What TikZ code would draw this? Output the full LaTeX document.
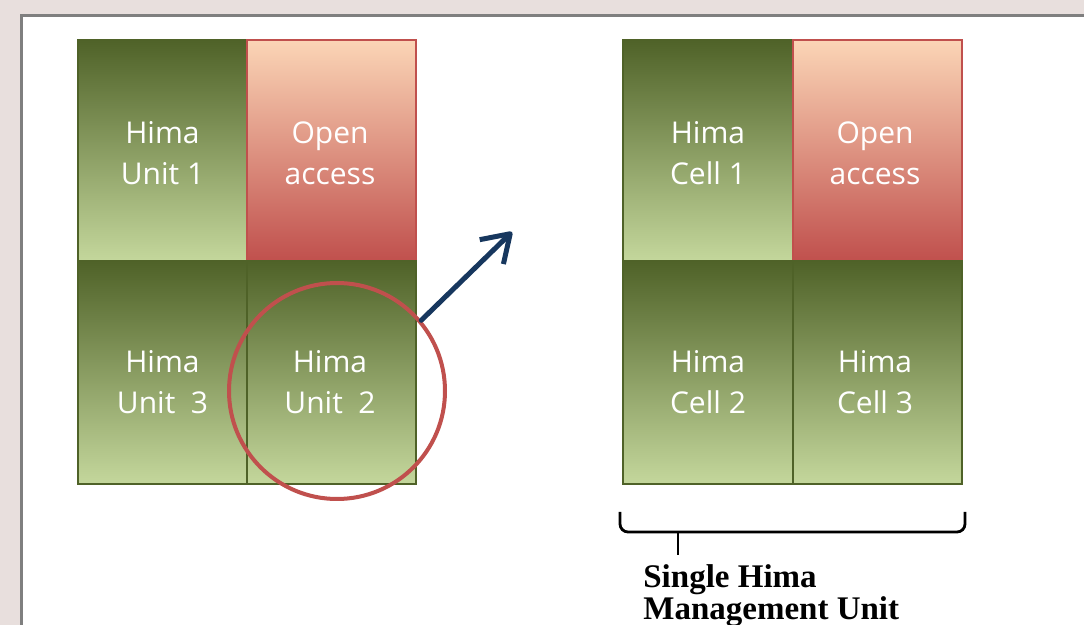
\documentclass[tikz,border=0pt]{standalone}
\usepackage{fontspec}
\setmainfont{Open Sans}
\newfontfamily\labelfont{Liberation Serif}
\usetikzlibrary{arrows.meta}

\definecolor{pagebg}{HTML}{E8DFDD}
\definecolor{framegrey}{HTML}{7F7F7F}
\definecolor{himadark}{HTML}{4F6228}
\definecolor{himamid}{HTML}{728645}
\definecolor{himalight}{HTML}{C4D79C}
\definecolor{openlight}{HTML}{FBD5B6}
\definecolor{openmid}{HTML}{E3A088}
\definecolor{openred}{HTML}{C0504D}
\definecolor{arrowblue}{HTML}{17375E}

\tikzset{
  himacell/.style={draw=himadark, line width=1pt, top color=himadark, middle color=himamid, bottom color=himalight},
  opencell/.style={draw=openred, line width=1pt, top color=openlight, middle color=openmid, bottom color=openred},
  celltext/.style={text=white, align=center, font=\fontsize{15}{20.5}\selectfont},
  ring/.style={circle, draw=openred, line width=2pt, minimum size=108pt, inner sep=0pt},
  pointer/.style={draw=arrowblue, line width=2.5pt, line cap=round, -{Straight Barb[length=13pt, width=17pt, line join=round]}},
  bracket/.style={draw=black, line width=1.4pt, rounded corners=4pt}
}

\begin{document}
\begin{tikzpicture}[x=0.5pt, y=-0.5pt]
  \useasboundingbox (0,0) rectangle (1084,625);
  % Page and frame
  \fill [pagebg] (0,0) rectangle (1084,625);
  \fill [white] (21,16) rectangle (1084,625);
  \draw [framegrey, line width=1.5pt] (21,660) -- (21,16) -- (1120,16);

  % Left grid
  \draw [himacell] (78,40) rectangle (247,261);
  \draw [opencell] (247,40) rectangle (416,261);
  \draw [himacell] (78,261) rectangle (247,484);
  \draw [himacell] (247,261) rectangle (416,484);
  \node [celltext] (unit1) at (162.5,153) {Hima\\Unit 1};
  \node [celltext] (openleft) at (330,153) {Open\\access};
  \node [celltext] (unit3) at (162.5,382) {Hima\\Unit~~3};
  \node [celltext] (unit2) at (330,382) {Hima\\Unit~~2};

  % Circle and arrow
  \node [ring] (ring) at (337,391) {};
  \coordinate (tip) at (512,232);
  \draw [pointer] (ring.40) -- (tip);

  % Right grid
  \draw [himacell] (623,40) rectangle (793,261);
  \draw [opencell] (793,40) rectangle (962,261);
  \draw [himacell] (623,261) rectangle (793,484);
  \draw [himacell] (793,261) rectangle (962,484);
  \node [celltext] (cell1) at (708,153) {Hima\\Cell 1};
  \node [celltext] (openright) at (875,153) {Open\\access};
  \node [celltext] (cell2) at (708,382) {Hima\\Cell 2};
  \node [celltext] (cell3) at (875,382) {Hima\\Cell 3};

  % Bracket and label
  \draw [bracket] (620,512) -- (620,532) -- (965,532) -- (965,512);
  \coordinate (brace) at (678,532);
  \node [anchor=north west, inner sep=0pt, align=left, font=\labelfont\bfseries\fontsize{16.5}{13}\selectfont] (smu) at (643,564) {Single Hima\\Management Unit};
  \draw [bracket, rounded corners=0pt] (brace) -- (678,555);
\end{tikzpicture}
\end{document}
